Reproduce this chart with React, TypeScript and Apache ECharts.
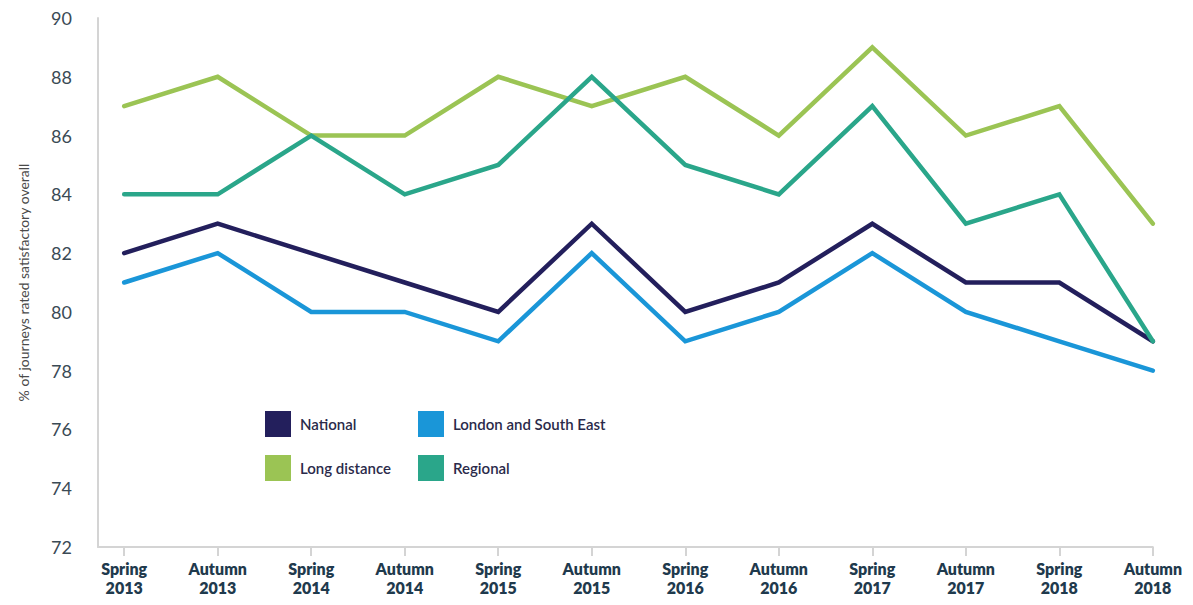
import React, { useEffect, useRef } from "react";
import * as echarts from "echarts";

const categories = [
  "Spring\n2013", "Autumn\n2013", "Spring\n2014", "Autumn\n2014",
  "Spring\n2015", "Autumn\n2015", "Spring\n2016", "Autumn\n2016",
  "Spring\n2017", "Autumn\n2017", "Spring\n2018", "Autumn\n2018",
];
const national = [82, 83, 82, 81, 80, 83, 80, 81, 83, 81, 81, 79];
const londonSE = [81, 82, 80, 80, 79, 82, 79, 80, 82, 80, 79, 78];
const longDistance = [87, 88, 86, 86, 88, 87, 88, 86, 89, 86, 87, 83];
const regional = [84, 84, 86, 84, 85, 88, 85, 84, 87, 83, 84, 79];
const yTicks = [72, 74, 76, 78, 80, 82, 84, 86, 88, 90];

const seriesDefs = [
  { name: "National", data: national, color: "#231f5c" },
  { name: "London and South East", data: londonSE, color: "#1a96d8" },
  { name: "Long distance", data: longDistance, color: "#9bc454" },
  { name: "Regional", data: regional, color: "#2aa68a" },
];

const legendPos = [
  { left: 252, top: 398 },
  { left: 405, top: 398 },
  { left: 252, top: 442 },
  { left: 405, top: 442 },
];

export default function App() {
  const ref = useRef<HTMLDivElement>(null);
  useEffect(() => {
    if (!ref.current) return;
    const chart = echarts.init(ref.current, undefined, { renderer: "svg" });
    const idx = categories.map((_, i) => i);
    chart.setOption({
      animation: false,
      backgroundColor: "#ffffff",
      grid: { left: 82, top: 10, right: 21, bottom: 48, containLabel: false },
      legend: seriesDefs.map((s, i) => ({
        data: [s.name],
        left: legendPos[i].left,
        top: legendPos[i].top,
        icon: "rect",
        itemWidth: 26,
        itemHeight: 26,
        itemGap: 0,
        selectedMode: false,
        textStyle: { fontFamily: "Lato", fontSize: 15, fontWeight: 600, color: "#2a2a4a", padding: [0, 0, 0, 4] },
      })),
      xAxis: {
        type: "value",
        min: -0.28,
        max: 11,
        splitLine: { show: false },
        axisLine: { show: true, onZero: false, lineStyle: { color: "#d4d4d4", width: 2 } },
        axisTick: { show: true, length: 9, customValues: idx, lineStyle: { color: "#d4d4d4", width: 2 } },
        axisLabel: {
          customValues: idx,
          formatter: (v: number) => categories[Math.round(v)] ?? "",
          fontFamily: "Lato",
          fontWeight: 800,
          fontSize: 16,
          lineHeight: 19,
          color: "#1f3a4d",
          margin: 12,
        },
      },
      yAxis: {
        type: "value",
        min: yTicks[0],
        max: yTicks[yTicks.length - 1],
        interval: 2,
        name: "% of journeys rated satisfactory overall",
        nameLocation: "middle",
        nameRotate: 90,
        nameGap: 68,
        nameTextStyle: { fontFamily: "Lato", fontSize: 14, color: "#4a4a4a" },
        splitLine: { show: false },
        axisLine: { show: true, onZero: false, lineStyle: { color: "#d4d4d4", width: 2 } },
        axisTick: { show: false },
        axisLabel: { fontFamily: "Lato", fontSize: 18, color: "#3a4a55", margin: 26 },
      },
      series: seriesDefs.map((s) => ({
        name: s.name,
        type: "line",
        data: s.data.map((v, i) => [i, v]),
        symbol: "none",
        lineStyle: { width: 4.5, color: s.color, cap: "round", join: "miter" },
        itemStyle: { color: s.color },
      })),
    });
    return () => chart.dispose();
  }, []);
  return <div ref={ref} style={{ width: 1177, height: 589 }} />;
}
